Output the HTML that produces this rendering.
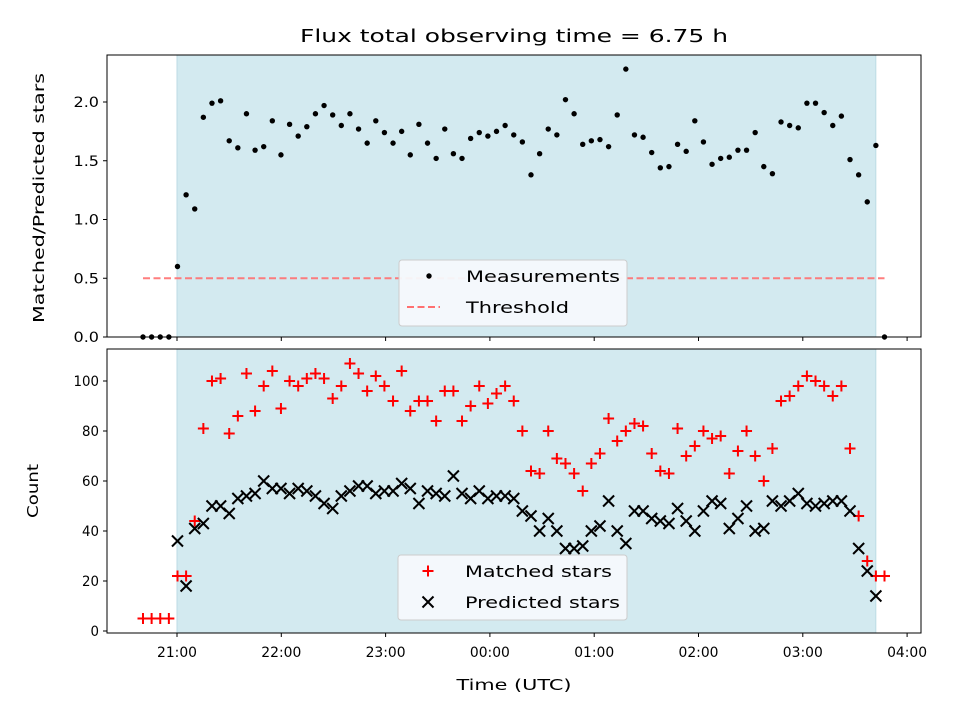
<!DOCTYPE html>
<html><head><meta charset="utf-8"><style>
body{margin:0;background:#fff;}
text{font-family:"DejaVu Sans","Liberation Sans",sans-serif;fill:#000;}
</style></head><body>
<svg id="fig" width="960" height="720" xmlns="http://www.w3.org/2000/svg">
<text x="514" y="42" font-size="18" text-anchor="middle" textLength="428" lengthAdjust="spacingAndGlyphs">Flux total observing time = 6.75 h</text>
<g id="topPanel"></g>
<g id="botPanel"></g>
<text x="514" y="690" font-size="15" text-anchor="middle" textLength="115" lengthAdjust="spacingAndGlyphs">Time (UTC)</text>
<text transform="translate(44,198) rotate(-90)" font-size="15" text-anchor="middle" textLength="250" lengthAdjust="spacingAndGlyphs">Matched/Predicted stars</text>
<text transform="translate(38,491) rotate(-90)" font-size="15" text-anchor="middle" textLength="54" lengthAdjust="spacingAndGlyphs">Count</text>
</svg>
<script>
const startMin = -19.56;
const stepMin = 4.96;
const ratio = [0,0,0,0,0.60,1.21,1.09,1.87,1.99,2.01,1.67,1.61,1.90,1.59,1.62,1.84,1.55,1.81,1.71,1.79,1.90,1.97,1.89,1.80,1.90,1.77,1.65,1.84,1.74,1.65,1.75,1.55,1.81,1.65,1.52,1.77,1.56,1.52,1.69,1.74,1.71,1.75,1.80,1.72,1.66,1.38,1.56,1.77,1.72,2.02,1.90,1.64,1.67,1.68,1.62,1.89,2.28,1.72,1.70,1.57,1.44,1.45,1.64,1.58,1.84,1.66,1.47,1.52,1.53,1.59,1.59,1.74,1.45,1.39,1.83,1.80,1.78,1.99,1.99,1.91,1.80,1.88,1.51,1.38,1.15,1.63,0];
const matched = [5,5,5,5,22,22,44,81,100,101,79,86,103,88,98,104,89,100,98,101,103,101,93,98,107,103,96,102,98,92,104,88,92,92,84,96,96,84,90,98,91,95,98,92,80,64,63,80,69,67,63,56,67,71,85,76,80,83,82,71,64,63,81,70,74,80,77,78,63,72,80,70,60,73,92,94,98,102,100,98,94,98,73,46,28,22,22];
const predicted = [null,null,null,null,36,18,41,43,50,50,47,53,54,55,60,57,57,55,57,56,54,51,49,54,56,58,58,55,56,56,59,57,51,56,55,54,62,55,53,56,53,54,54,53,48,46,40,45,40,33,33,34,40,42,52,40,35,48,48,45,44,43,49,44,40,48,52,51,41,45,50,40,41,52,50,52,55,51,50,51,52,52,48,33,24,14,null];
const xTicks = [0,60,120,180,240,300,360,420];
const xTickLabels = ["21:00","22:00","23:00","00:00","01:00","02:00","03:00","04:00"];
const topTicks = [0,0.5,1.0,1.5,2.0];
const topTickLabels = ["0.0","0.5","1.0","1.5","2.0"];
const botTicks = [0,20,40,60,80,100];
const threshold = 0.5;
const windowStart = 0, windowEnd = 402;

const NS="http://www.w3.org/2000/svg";
const X0=107,X1=921;
const xs=t=>177+t*104.3/60;
const tTop=55,bTop=337, yTop=v=>bTop-(v/2.4)*(bTop-tTop);
const tBot=349,bBot=633, yBot=v=>bBot-((v+0.8)/113.6)*(bBot-tBot);
function mk(parent,tag,attrs){const e=document.createElementNS(NS,tag);for(const k in attrs)e.setAttribute(k,attrs[k]);parent.appendChild(e);return e;}
const times=ratio.map((_,i)=>startMin+i*stepMin);

function panel(g,ptop,pbot,yf,ticks,labels,name){
  const sh=mk(g,'rect',{x:xs(windowStart),y:ptop,width:xs(windowEnd)-xs(windowStart),height:pbot-ptop,fill:'#d3eaf0',stroke:'#bcdbe4','stroke-width':1});
  
  
  ticks.forEach((v,i)=>{
    const y=yf(v);
    const l=mk(g,'line',{x1:X0-4,x2:X0,y1:y,y2:y,stroke:'#000','stroke-width':1});
    
    
    const lab=labels[i];
    const t=mk(g,'text',{x:X0-8,y:y+5,'font-size':14,'text-anchor':'end',textLength:(lab.length*8.5).toFixed(1),lengthAdjust:'spacingAndGlyphs'});
    t.textContent=lab;
    
    
  });
  xTicks.forEach(v=>{
    const x=xs(v);
    const l=mk(g,'line',{x1:x,x2:x,y1:pbot,y2:pbot+4,stroke:'#000','stroke-width':1});
    
    
  });
}
const topG=document.getElementById('topPanel'), botG=document.getElementById('botPanel');
panel(topG,tTop,bTop,yTop,topTicks,topTickLabels,'top');
panel(botG,tBot,bBot,yBot,botTicks,botTicks.map(String),'bottom');

const th=mk(topG,'line',{x1:xs(times[0]),x2:xs(times[times.length-1]),y1:yTop(threshold),y2:yTop(threshold),stroke:'#ff7070','stroke-width':2,'stroke-dasharray':'7,3.5','stroke-opacity':0.9});



ratio.forEach((v,i)=>{
  const c=mk(topG,'circle',{cx:xs(times[i]),cy:yTop(v),r:2.7,fill:'#000'});
  
  
});
matched.forEach((v,i)=>{
  const x=xs(times[i]),y=yBot(v),a=5.5;
  const p=mk(botG,'path',{d:`M${x-a},${y}H${x+a}M${x},${y-a}V${y+a}`,stroke:'#f00','stroke-width':2});
  
  
});
predicted.forEach((v,i)=>{
  if(v===null)return;
  const x=xs(times[i]),y=yBot(v),a=5.5;
  const p=mk(botG,'path',{d:`M${x-a},${y-a}L${x+a},${y+a}M${x-a},${y+a}L${x+a},${y-a}`,stroke:'#000','stroke-width':2});
  
  
});
xTicks.forEach((v,i)=>{
  const t=mk(botG,'text',{x:xs(v),y:bBot+24,'font-size':14,'text-anchor':'middle',textLength:40,lengthAdjust:'spacingAndGlyphs'});
  t.textContent=xTickLabels[i];
  
  
});
[[tTop,bTop,topG],[tBot,bBot,botG]].forEach(([a,b,g])=>{
  const r=mk(g,'rect',{x:X0,y:a,width:X1-X0,height:b-a,fill:'none',stroke:'#000','stroke-width':1});
  
  
});
function legend(g,x,y,w,h,items,name){
  const lg=mk(g,'g',{});
  
  
  mk(lg,'rect',{x:x,y:y,width:w,height:h,rx:3,fill:'#f6f9fc','fill-opacity':0.95,stroke:'#ccc','stroke-width':1});
  items.forEach((it,i)=>{
    const cy=y+16+i*31;
    it.draw(lg,x+30,cy);
    const t=mk(lg,'text',{x:x+67,y:cy+6,'font-size':16,textLength:it.w,lengthAdjust:'spacingAndGlyphs'});
    t.textContent=it.label;
    
    
  });
}
legend(topG,399,260,228,66,[
  {label:'Measurements',w:154,draw:(g,x,y)=>mk(g,'circle',{cx:x,cy:y,r:2.7,fill:'#000'})},
  {label:'Threshold',w:103,draw:(g,x,y)=>mk(g,'line',{x1:x-22,x2:x+11,y1:y,y2:y,stroke:'#ff7070','stroke-width':2,'stroke-dasharray':'7,3.5'})}
],'top-legend');
legend(botG,398,555,229,65,[
  {label:'Matched stars',w:147,draw:(g,x,y)=>mk(g,'path',{d:`M${x-5.5},${y}H${x+5.5}M${x},${y-5.5}V${y+5.5}`,stroke:'#f00','stroke-width':2})},
  {label:'Predicted stars',w:155,draw:(g,x,y)=>mk(g,'path',{d:`M${x-5.5},${y-5.5}L${x+5.5},${y+5.5}M${x-5.5},${y+5.5}L${x+5.5},${y-5.5}`,stroke:'#000','stroke-width':2})}
],'bottom-legend');
</script>
</body></html>
